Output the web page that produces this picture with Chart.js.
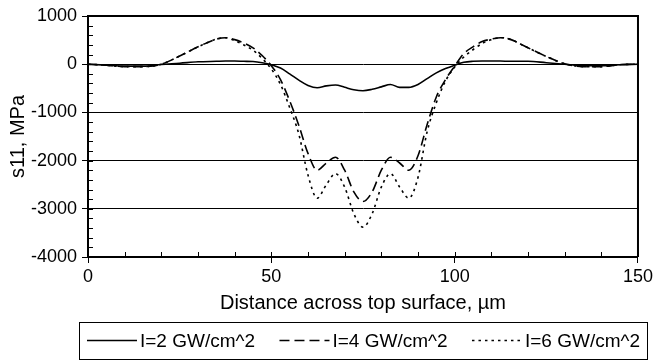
<!doctype html>
<html>

<head>
	<title>s11 across top surface</title>
	<script src="https://cdn.jsdelivr.net/npm/chart.js@4/dist/chart.umd.min.js"></script>
	<style>
	body {
		margin: 0;
		background: #fff;
	}
	canvas {
		display: block;
	}
	</style>
</head>

<body>
	<canvas id="chart" width="656" height="361"></canvas>
	<script>
		var FONT = '"Liberation Sans", Arial, sans-serif';

		// distance across top surface, um
		var distance = [0, 5, 10, 15, 20, 25, 30, 35, 37.5, 40, 42.5, 45, 47.5, 50, 52.5, 55, 57.5, 60, 62.5, 65,
			67.5, 70, 72.5, 75, 77.5, 80, 82.5, 85, 87.5, 90, 92.5, 95, 97.5, 100, 102.5, 105, 107.5, 110, 112.5,
			115, 120, 125, 130, 135, 140, 145, 150];

		// s11, MPa
		var s11I2 = [0, -20, -40, -40, -5, 20, 50, 60, 65, 65, 60, 55, 30, -10, -80, -200, -330, -440, -490, -450,
			-430, -480, -530, -550, -520, -470, -420, -480, -480, -420, -300, -180, -90, -20, 40, 60, 65, 65, 65,
			60, 60, 30, 0, -30, -30, -10, 0];
		var s11I4 = [0, -20, -50, -50, 0, 170, 360, 520, 550, 510, 440, 340, 180, -30, -320, -760, -1270, -1850, -2200, -2050,
			-1930, -2200, -2650, -2850, -2650, -2200, -1930, -2050, -2200, -1900, -1250, -680, -320, -40, 220, 360, 470, 520, 550,
			520, 340, 160, 10, -50, -50, -10, 0];
		var s11I6 = [0, -20, -50, -50, 0, 170, 360, 520, 550, 490, 400, 290, 120, -100, -420, -900, -1450, -2300, -2780, -2500,
			-2270, -2550, -3100, -3380, -3100, -2550, -2270, -2550, -2780, -2350, -1400, -800, -350, -60, 150, 300, 430, 510, 550,
			520, 340, 160, 10, -50, -50, -10, 0];

		var seriesLabels = ['I=2 GW/cm^2', 'I=4 GW/cm^2', 'I=6 GW/cm^2'];
		var xTicks = [0, 150, 50];
		var yTicks = [-4000, 1000, 1000];

		function points(values) {
			return values.map(function(v, i) {
				return {x: distance[i], y: v};
			});
		}

		function lineSet(label, values, dash) {
			return {
				label: label,
				data: points(values),
				borderColor: '#000',
				borderWidth: 1.6,
				borderDash: dash,
				pointRadius: 0,
				fill: false,
				showLine: true,
				cubicInterpolationMode: 'monotone'
			};
		}

		// frame, minor ticks inside the plot
		var frame = {
			id: 'frame',
			afterDatasetsDraw: function(chart) {
				var ctx = chart.ctx;
				var a = chart.chartArea;
				var x = chart.scales.x;
				var y = chart.scales.y;
				ctx.save();
				ctx.strokeStyle = '#000';
				ctx.lineWidth = 2;
				ctx.beginPath();
				ctx.moveTo(a.left, a.top);
				ctx.lineTo(a.right, a.top);
				ctx.lineTo(a.right, a.bottom);
				ctx.stroke();
				ctx.lineWidth = 1;
				ctx.beginPath();
				for (var v = 0; v <= 150; v += 10) {
					var px = Math.round(x.getPixelForValue(v)) + 0.5;
					ctx.moveTo(px, a.bottom);
					ctx.lineTo(px, a.bottom - 5);
				}
				for (var w = -4000; w <= 1000; w += 200) {
					var py = Math.round(y.getPixelForValue(w)) + 0.5;
					ctx.moveTo(a.left, py);
					ctx.lineTo(a.left + 5, py);
				}
				ctx.stroke();
				ctx.restore();
			}
		};

		// legend in a box under the axis title
		var boxedLegend = {
			id: 'boxedLegend',
			afterDraw: function(chart) {
				var ctx = chart.ctx;
				var a = chart.chartArea;
				var sets = chart.data.datasets;
				var boxW = 568, boxH = 37, keyW = 50;
				var left = (a.left + a.right) / 2 - boxW / 2;
				var top = chart.height - 39;
				var mid = top + boxH / 2;
				ctx.save();
				ctx.font = '19px ' + FONT;
				ctx.textBaseline = 'middle';
				ctx.fillStyle = '#000';
				var widths = sets.map(function(d) {
					return keyW + 3 + ctx.measureText(d.label).width;
				});
				var used = widths.reduce(function(s, w) { return s + w; }, 0);
				var gap = (boxW - 15 - used) / (sets.length - 1);
				ctx.strokeStyle = '#000';
				ctx.lineWidth = 1;
				ctx.strokeRect(Math.round(left) + 0.5, Math.round(top) + 0.5, boxW, boxH);
				var cx = left + 8;
				sets.forEach(function(d, i) {
					ctx.lineWidth = d.borderWidth;
					ctx.setLineDash(d.borderDash || []);
					ctx.beginPath();
					ctx.moveTo(cx, mid);
					ctx.lineTo(cx + keyW, mid);
					ctx.stroke();
					ctx.setLineDash([]);
					ctx.fillText(d.label, cx + keyW + 3, mid + 1);
					cx += widths[i] + gap;
				});
				ctx.restore();
			}
		};

		window.onload = function() {
			var ctx = document.getElementById('chart').getContext('2d');
			new Chart(ctx, {
				type: 'scatter',
				data: {
					datasets: [
						lineSet(seriesLabels[0], s11I2, []),
						lineSet(seriesLabels[1], s11I4, [10, 5]),
						lineSet(seriesLabels[2], s11I6, [2.5, 4])
					]
				},
				options: {
					responsive: false,
					animation: false,
					layout: {
						padding: {left: 0, right: 18, top: 16, bottom: 44}
					},
					plugins: {
						legend: {display: false},
						tooltip: {enabled: false}
					},
					scales: {
						x: {
							type: 'linear',
							min: xTicks[0],
							max: xTicks[1],
							afterFit: function(scale) {
								scale.height = 60;
							},
							ticks: {
								stepSize: xTicks[2],
								padding: 3,
								color: '#000',
								font: {family: FONT, size: 18}
							},
							grid: {
								drawOnChartArea: false,
								tickLength: 6,
								tickColor: '#000'
							},
							border: {color: '#000', width: 2},
							title: {
								display: true,
								text: 'Distance across top surface, \u00b5m',
								color: '#000',
								font: {family: FONT, size: 20},
								padding: {top: 0, bottom: 2}
							}
						},
						y: {
							type: 'linear',
							min: yTicks[0],
							max: yTicks[1],
							afterFit: function(scale) {
								scale.width = 88;
							},
							ticks: {
								stepSize: yTicks[2],
								padding: 5,
								color: '#000',
								font: {family: FONT, size: 18},
								callback: function(v) {
									return String(v);
								}
							},
							grid: {
								color: '#000',
								lineWidth: 1,
								tickLength: 6,
								tickColor: '#000'
							},
							border: {color: '#000', width: 2},
							title: {
								display: true,
								text: 's11, MPa',
								color: '#000',
								font: {family: FONT, size: 20},
								padding: {top: 6, bottom: 0}
							}
						}
					}
				},
				plugins: [frame, boxedLegend]
			});
		};
	</script>
</body>

</html>
